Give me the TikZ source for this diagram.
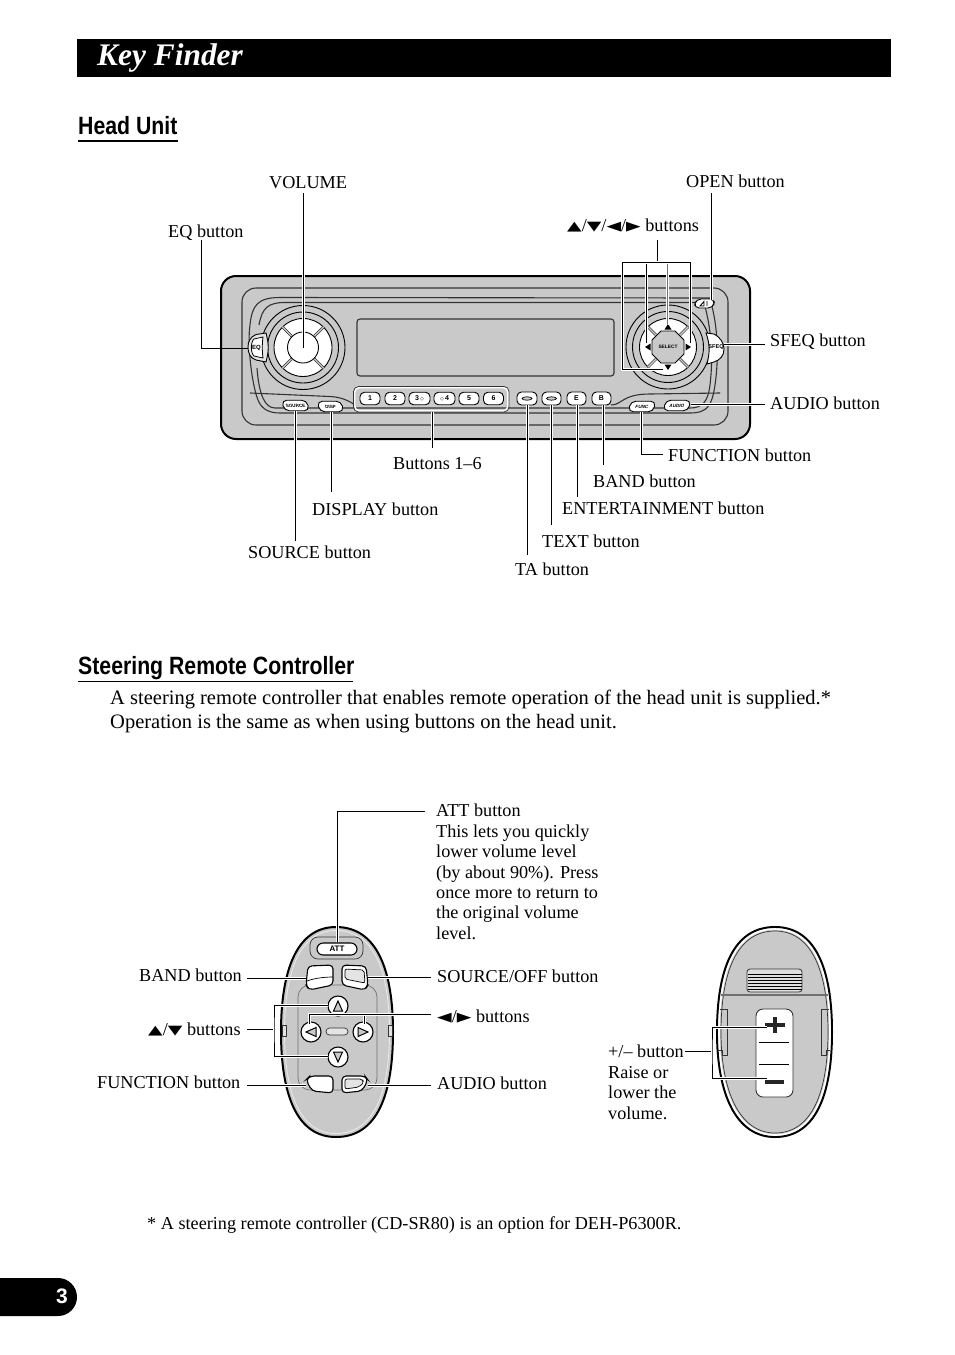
\documentclass[tikz,border=0pt]{standalone}
\usepackage{graphicx}
\usepackage{fontspec}
\setmainfont{Liberation Serif}
\newfontfamily\hdfont[FakeStretch=0.85]{Liberation Sans}
\newfontfamily\btnfont{Liberation Sans}
\newfontfamily\symfont{DejaVu Sans}
\newcommand{\arw}[1]{\raisebox{.8pt}{\scalebox{1}[.68]{\symfont\fontsize{19}{19}\selectfont #1}}}
\definecolor{devgray}{HTML}{C9C9C9}
\definecolor{devline}{HTML}{333333}
\tikzset{
 lead/.style={draw=black,line width=1pt},
 leadc/.style={lead,preaction={draw=white,line width=3pt}},
 lab/.style={anchor=base west,inner sep=0pt,font=\fontsize{18.2}{20.4}\selectfont},
 multilab/.style={anchor=north west,inner sep=0pt,align=left,font=\fontsize{18.2}{20.4}\selectfont},
 head/.style={anchor=base west,inner sep=0pt,font=\hdfont\bfseries\fontsize{25}{25}\selectfont},
 frameln/.style={draw=devline,line width=1.1pt},
 btn/.style={draw=black,fill=white,line width=.9pt,rounded corners=4.5pt,inner sep=0pt,font=\btnfont\bfseries\fontsize{7}{7}\selectfont},
 tinybtn/.style={btn,font=\btnfont\bfseries\fontsize{4.6}{5}\selectfont,rounded corners=5pt},
 ring/.style={circle,draw=black,inner sep=0pt,line width=.9pt},
 slot/.style={draw=devline,line width=2.6pt},
 slotin/.style={draw=devgray,line width=1.4pt},
 rbtn/.style={draw=black,fill=white,line width=1.1pt},
 tribtn/.style={circle,draw=black,fill=white,line width=1.1pt,inner sep=0pt,minimum size=20pt},
}
\begin{document}
\begin{tikzpicture}[x=1pt,y=-1pt]
\useasboundingbox (0,0) rectangle (954,1355);
% title and headings
\fill[black] (77,39) rectangle (891,77);
\node[anchor=base west,inner sep=0pt,text=white,font=\bfseries\itshape\fontsize{31.4}{32}\selectfont] (title) at (97,65) {Key Finder};
\node[head] (hu) at (78,134) {Head Unit};
\draw[line width=1.1pt] (78,141) -- (178,141);
\node[head] (srch) at (78,674) {Steering Remote Controller};
\draw[line width=1.1pt] (78,681.5) -- (353,681.5);
\node[anchor=north west,inner sep=0pt,align=left,font=\fontsize{20.5}{24}\selectfont] (intro) at (110,689.5) {A steering remote controller that enables remote operation of the head unit is supplied.*\\Operation is the same as when using buttons on the head unit.};
\node[anchor=base west,inner sep=0pt,font=\fontsize{18.2}{20}\selectfont] (foot) at (147,1229) {* A steering remote controller (CD-SR80) is an option for DEH-P6300R.};
% page tab
\fill[black] (0,1278) -- (58,1278) .. controls (68.5,1278) and (77,1286.5) .. (77,1297) .. controls (77,1307.5) and (68.5,1316) .. (58,1316) -- (0,1316) -- cycle;
\node[text=white,inner sep=0pt,font=\btnfont\bfseries\fontsize{21}{21}\selectfont] (pg) at (62,1296) {3};

% ===== head unit body =====
\draw[fill=devgray,draw=black,line width=2pt,rounded corners=15pt] (221,276) rectangle (750,439);
\draw[frameln,rounded corners=14pt] (242,288) rectangle (728,425);
\draw[frameln] (280,297.5) .. controls (258,297.5) and (252,305) .. (250,325) .. controls (247,345) and (252,385) .. (258,400) .. controls (262,410) and (270,413) .. (280,413) -- (690,413) .. controls (708,413) and (712,405) .. (715,385) .. controls (720,350) and (716,320) .. (711,303) -- (711,298) -- cycle;
\draw[frameln] (285,302.5) .. controls (268,302.5) and (262,308) .. (259,325);
\draw[frameln] (285,302.5) -- (704,302.5) .. controls (710,325) and (714,350) .. (710,385) .. controls (708,402) and (702,408) .. (690,408) -- (275,408) .. controls (265,408) and (259,395) .. (257,368);
\draw[frameln] (250,393) -- (330,396.5) .. controls (340,397) and (348,400) .. (355,405);
\draw[frameln] (611,405) .. controls (622,405) and (622,394) .. (650,394) -- (720,393);
% display
\draw[frameln,fill=devgray,rounded corners=3pt] (357,319) rectangle (614,376);

% left knob
\node[ring,minimum size=84pt,fill=devgray] (knobA) at (303,347.5) {};
\node[ring,minimum size=71pt] (knobB) at (303,347.5) {};
\node[ring,minimum size=58pt,fill=white] (knobC) at (303,347.5) {};
\foreach \a in {45,135,225,315}{
 \draw[slot] (303,347.5) ++(\a:16) -- ++(\a:13.5);
 \draw[slotin] (303,347.5) ++(\a:14) -- ++(\a:15.5);
}
\node[ring,minimum size=31pt,fill=white] (knobD) at (303,347.5) {};
% EQ button
\draw[draw=black,fill=devgray!50!white,line width=.9pt] (266,333) -- (256,334.5) .. controls (250,337) and (248,342) .. (248,347) .. controls (248,353) and (250,358) .. (256,360) -- (266,362) .. controls (269,350) and (269,345) .. (266,333) -- cycle;
\draw[fill=white,line width=.8pt,draw=black] (263,337) -- (254,339) .. controls (250.5,342) and (250.5,353) .. (254,356) -- (263,358) .. controls (262,350) and (262,345) .. (263,337) -- cycle;
\node[inner sep=0pt,font=\btnfont\bfseries\fontsize{6}{6}\selectfont] (eq) at (256.5,347.5) {EQ};
\coordinate (eqW) at (248,348);

% small slanted buttons
\node[tinybtn,xslant=-.25,minimum width=25pt,minimum height=10.5pt] (src) at (295.5,405.5) {SOURCE};
\node[tinybtn,xslant=-.25,minimum width=24pt,minimum height=10.5pt] (dsp) at (330.5,406.5) {DISP};
\node[tinybtn,xslant=.25,minimum width=25pt,minimum height=10.5pt] (fnc) at (642,406.5) {FUNC};
\node[tinybtn,xslant=.25,minimum width=25pt,minimum height=10.5pt] (aud) at (677,405.5) {AUDIO};
% preset buttons
\draw[draw=white,line width=1.6pt,rounded corners=5pt] (354.5,387.5) rectangle (508,411);
\draw[draw=devline,line width=.7pt,rounded corners=5pt] (353.5,386.5) rectangle (509,412);
\node[btn,minimum width=20pt,minimum height=12.5pt] (p1) at (370,398.5) {1};
\node[btn,minimum width=20pt,minimum height=12.5pt] (p2) at (395,398.5) {2};
\node[btn,minimum width=21pt,minimum height=12.5pt] (p3) at (419.5,398.5) {3\,{\symfont\fontsize{5}{5}\selectfont ◇}};
\node[btn,minimum width=21pt,minimum height=12.5pt] (p4) at (444.5,398.5) {{\symfont\fontsize{5}{5}\selectfont ◇}\,4};
\node[btn,minimum width=20pt,minimum height=12.5pt] (p5) at (469,398.5) {5};
\node[btn,minimum width=20pt,minimum height=12.5pt] (p6) at (493.5,398.5) {6};
% function buttons
\node[btn,minimum width=20pt,minimum height=13pt] (ta) at (527,398.5) {};
\node[btn,minimum width=19pt,minimum height=13pt] (tx) at (551.5,398.5) {};
\draw[line width=.7pt,fill=devgray] (ta.center) ellipse[x radius=5,y radius=1.7];
\draw[line width=.7pt,fill=devgray] (tx.center) ellipse[x radius=5,y radius=1.7];
\node[btn,minimum width=19pt,minimum height=13pt] (ent) at (576.5,398.5) {E};
\node[btn,minimum width=19pt,minimum height=13pt] (bnd) at (601.5,398.5) {B};

% right knob
\node[ring,minimum size=84pt,fill=devgray] (knobE) at (668,347) {};
\node[ring,minimum size=71pt] (knobF) at (668,347) {};
\node[ring,minimum size=57pt,fill=white] (knobG) at (668,347) {};
\foreach \a in {45,135,225,315}{
 \draw[slot] (668,347) ++(\a:17) -- ++(\a:11.5);
 \draw[slotin] (668,347) ++(\a:15) -- ++(\a:13.5);
}
\draw[fill=devgray,draw=black,line width=.9pt] (661,331) -- (675,331) -- (684,340) -- (684,354) -- (675,363) -- (661,363) -- (652,354) -- (652,340) -- cycle;
\node[inner sep=0pt,font=\btnfont\bfseries\fontsize{4.8}{5}\selectfont] (sel) at (668,347) {SELECT};
\fill (668,324) -- (671.5,329.5) -- (664.5,329.5) -- cycle;
\fill (668,370) -- (671.5,364.5) -- (664.5,364.5) -- cycle;
\fill (645,347) -- (650.5,343.5) -- (650.5,350.5) -- cycle;
\fill (691,347) -- (685.5,343.5) -- (685.5,350.5) -- cycle;
\coordinate (kUp) at (667.5,325);
\coordinate (kLeft) at (646,343);
\coordinate (kRight) at (690.5,343);
\coordinate (kDown) at (663,369);
% open button
\node[tinybtn,xslant=.2,minimum width=19pt,minimum height=9pt] (opn) at (704.5,303.5) {};
\draw[line width=.9pt] (700,306) -- (704,301.5) -- (704,306) -- cycle (707,301) -- (707,306);
% SFEQ button
\draw[draw=black,fill=white,line width=.9pt] (706,333) -- (714,334) .. controls (720,337) and (724,343) .. (724,349) .. controls (724,356) and (720,360) .. (714,362) -- (707,364) .. controls (710,352) and (710,344) .. (706,333) -- cycle;
\node[inner sep=0pt,font=\btnfont\bfseries\fontsize{5.6}{6}\selectfont] (sfq) at (716,347.5) {SFEQ};
\coordinate (sfqE) at (724,344);

% ===== head unit labels =====
\node[lab] (lVol) at (269,188) {VOLUME};
\node[lab] (lOpen) at (686,187) {OPEN button};
\node[lab] (lArr) at (567,231) {\arw{▲}/\arw{▼}/\arw{◀}/\arw{▶} buttons};
\node[lab] (lEq) at (168,237) {EQ button};
\node[lab] (lSfq) at (770,346) {SFEQ button};
\node[lab] (lAud) at (770,409) {AUDIO button};
\node[lab] (lFnc) at (668,461) {FUNCTION button};
\node[lab] (lBtn) at (393,469) {Buttons 1–6};
\node[lab] (lBnd) at (593,487) {BAND button};
\node[lab] (lDsp) at (312,515) {DISPLAY button};
\node[lab] (lEnt) at (562,514) {ENTERTAINMENT button};
\node[lab] (lTxt) at (542,547) {TEXT button};
\node[lab] (lSrc) at (248,558) {SOURCE button};
\node[lab] (lTa) at (515,575) {TA button};

% ===== head unit leaders =====
\coordinate (volT) at (303,193);
\draw[leadc] (volT) -- (knobD.center);
\coordinate (eqT) at (201,240);
\draw[lead] (eqT) |- (eqW);
\coordinate (opnT) at (711,193);
\coordinate (opnB) at (711,300);
\draw[leadc] (opnT) -- (opnB);
\coordinate (brTL) at (622.5,262.5);
\coordinate (brTR) at (690.5,262.5);
\coordinate (brStem) at (657,240);
\coordinate (brJn) at (657,262.5);
\draw[lead] (brStem) -- (brJn);
\draw[leadc] (brTL -| kLeft) -- (kLeft);
\draw[leadc,draw=black!55] (brTL -| kUp) -- (kUp);
\draw[leadc] (kDown) -| (brTL) -- (brTR) -- (kRight);
\coordinate (sfqR) at (765,344);
\draw[leadc] (sfqE) -- (sfqR);
\coordinate (audR) at (765,404);
\draw[leadc] (691,404) -- (audR);
\coordinate (fncR) at (663,454);
\draw[leadc] (641,411.5) |- (fncR);
\coordinate (bndB) at (603,465);
\draw[leadc] (bndB |- bnd.south) -- (bndB);
\coordinate (entB) at (577,497);
\draw[leadc] (entB |- ent.south) -- (entB);
\coordinate (txtB) at (551.5,525);
\draw[leadc] (tx.south) -- (txtB);
\coordinate (taB) at (527,555);
\draw[leadc] (ta.south) -- (taB);
\coordinate (btnB) at (432,448);
\draw[leadc] (432,412) -- (btnB);
\coordinate (dspB) at (331,492);
\draw[leadc] (dspB |- dsp.south) -- (dspB);
\coordinate (srcB) at (295,541);
\draw[leadc] (srcB |- src.south) -- (srcB);

% ===== left remote =====
\draw[fill=devgray,draw=black,line width=2pt] (336,927) .. controls (296,927) and (281,972) .. (281,1032) .. controls (281,1093) and (296,1137) .. (336,1137) .. controls (378,1137) and (393,1093) .. (393,1032) .. controls (393,972) and (378,927) .. (336,927) -- cycle;
\draw[draw=devgray!40!white,line width=.9pt] (336,930.5) .. controls (299,930.5) and (284.5,973) .. (284.5,1032) .. controls (284.5,1091) and (299,1133.5) .. (336,1133.5) .. controls (375,1133.5) and (389.5,1091) .. (389.5,1032) .. controls (389.5,973) and (375,930.5) .. (336,930.5) -- cycle;
\draw[draw=devline!70,line width=.7pt,rounded corners=12pt] (298,985) rectangle (377,1090);
\draw[draw=devline,fill=devgray!55!white,line width=.7pt] (282,1025) rectangle (286,1036);
\draw[draw=devline,fill=devgray!55!white,line width=.7pt] (388,1025) rectangle (392,1036);
\draw[draw=devline,line width=.7pt,rounded corners=8pt] (310,937) rectangle (363,959);
\node[rbtn,rounded corners=6pt,inner sep=0pt,minimum width=40pt,minimum height=12pt,font=\btnfont\bfseries\fontsize{8}{8}\selectfont] (att) at (337,949) {ATT};
\draw[rbtn,rounded corners=4pt] (308,966) -- (333,965) -- (333,985) -- (309,990) -- (306,985) -- cycle;
\draw[line width=.7pt] (307,981) .. controls (315,978) and (325,977) .. (333,977);
\draw[rbtn,rounded corners=4pt] (342,965) -- (366,966) -- (368,985) -- (365,990) -- (342,985) -- cycle;
\draw[line width=.7pt,fill=devgray!50!white,rounded corners=2pt] (345,969) -- (364,970) -- (365,983) -- (345,979) -- cycle;
\draw[rbtn,rounded corners=4pt] (306,1080) -- (310,1076) -- (333,1076) -- (333,1093) -- (312,1091) -- cycle;
\draw[rbtn,rounded corners=4pt] (342,1076) -- (365,1076) -- (368,1080) -- (362,1091) -- (342,1093) -- cycle;
\draw[line width=.7pt,fill=devgray!50!white,rounded corners=2pt] (345,1079) -- (362,1079) -- (364,1082) -- (359,1087) -- (345,1089) -- cycle;
\node[tribtn] (rUp) at (338,1006) {};
\node[tribtn] (rDn) at (338,1057) {};
\node[tribtn] (rLf) at (311,1032) {};
\node[tribtn] (rRt) at (363,1032) {};
\draw[line width=1pt,fill=devgray] (338,1001) -- (342.5,1011) -- (333.5,1011) -- cycle;
\draw[line width=1pt,fill=devgray] (338,1062) -- (342.5,1052) -- (333.5,1052) -- cycle;
\draw[line width=1pt,fill=devgray] (306,1032) -- (316,1027.5) -- (316,1036.5) -- cycle;
\draw[line width=1pt,fill=devgray] (368,1032) -- (358,1027.5) -- (358,1036.5) -- cycle;
\draw[line width=.7pt,draw=devline,fill=devgray!50!white,rounded corners=3.5pt] (326,1028) rectangle (348,1035);

% left remote labels
\node[multilab] (lAtt) at (436,804) {ATT button\\This lets you quickly\\lower volume level\\(by about 90\%). Press\\once more to return to\\the original volume\\level.};
\node[lab] (lRB) at (139,981) {BAND button};
\node[lab] (lRS) at (437,982) {SOURCE/OFF button};
\node[lab] (lRUD) at (148,1035) {\arw{▲}/\arw{▼} buttons};
\node[lab] (lRLR) at (437,1022) {\arw{◀}/\arw{▶} buttons};
\node[lab] (lRF) at (97,1088) {FUNCTION button};
\node[lab] (lRA) at (437,1089) {AUDIO button};

% left remote leaders
\coordinate (attR) at (425,811);
\draw[leadc] (attR) -| (att.north);
\coordinate (rbL) at (247,978);
\coordinate (rbR) at (306,978);
\draw[leadc] (rbL) -- (rbR);
\coordinate (rsL) at (368,977);
\coordinate (rsR) at (431,977);
\draw[leadc] (rsL) -- (rsR);
\coordinate (udL) at (247,1029);
\coordinate (udM) at (274,1029);
\coordinate (udT) at (328,1005);
\coordinate (udB) at (328,1056);
\draw[lead] (udL) -- (udM);
\draw[leadc] (udT) -| (udM) |- (udB);
\coordinate (lrR) at (431,1014);
\coordinate (lrL) at (309,1024);
\coordinate (lrM) at (364.5,1024);
\draw[leadc] (lrM) -- (lrM |- lrR);
\draw[leadc] (lrR) -| (lrL);
\coordinate (rfL) at (247,1085);
\coordinate (rfR) at (306,1085);
\draw[leadc] (rfL) -- (rfR);
\coordinate (raL) at (368,1085);
\coordinate (raR) at (431,1085);
\draw[leadc] (raL) -- (raR);

% ===== right remote =====
\draw[fill=devgray,draw=black,line width=2pt] (775,927) .. controls (733,927) and (717,970) .. (717,1032) .. controls (717,1094) and (736,1137) .. (775,1137) .. controls (816,1137) and (832,1094) .. (832,1032) .. controls (832,970) and (816,927) .. (775,927) -- cycle;
\draw[draw=white,line width=1.6pt] (775,929) .. controls (735,929) and (719,971) .. (719,1032) .. controls (719,1093) and (738,1135) .. (775,1135) .. controls (814,1135) and (830,1093) .. (830,1032) .. controls (830,971) and (814,929) .. (775,929) -- cycle;
\draw[draw=devline,line width=.7pt] (775,931) .. controls (737,931) and (721,972) .. (721,1032) .. controls (721,1092) and (740,1133) .. (775,1133) .. controls (812,1133) and (828,1092) .. (828,1032) .. controls (828,972) and (812,931) .. (775,931) -- cycle;
\draw[draw=devline!70,line width=1.2pt] (721,995) -- (828,995);
\draw[draw=devline,fill=devgray!60!white,line width=.8pt,rounded corners=3pt] (747,969) rectangle (802,992);
\foreach \yy in {974,977,980,983,986,989}{\draw[line width=.8pt] (747.5,\yy) -- (801.5,\yy);}
\draw[draw=devline,line width=.8pt] (720,1009) -- (727,1009) -- (727,1055) -- (722,1055) -- (722,1050) -- (718,1050);
\draw[draw=devline,line width=.8pt] (829,1009) -- (821,1009) -- (821,1055) -- (826,1055) -- (826,1050) -- (830,1050);
\node[draw=devline,fill=white,line width=.9pt,rounded corners=7pt,inner sep=0pt,minimum width=37pt,minimum height=88pt] (vol) at (774.5,1053) {};
\draw[line width=.8pt] (759,1042) -- (789,1042) (759,1064) -- (789,1064);
\draw[line width=3.6pt,draw=black!85] (765,1025) -- (785,1025);
\draw[line width=3.6pt,draw=black!85] (775,1017) -- (775,1033);
\draw[line width=3.4pt,draw=black!85] (765,1082) -- (784,1082);
\node[multilab] (lPM) at (608,1045) {+/– button\\Raise or\\lower the\\volume.};
\coordinate (pmL) at (685,1051);
\coordinate (pmM) at (712,1051);
\coordinate (pmT) at (767,1027);
\coordinate (pmB) at (767,1078);
\draw[lead] (pmL) -- (pmM);
\draw[leadc] (pmT) -| (pmM) |- (pmB);
\end{tikzpicture}
\end{document}
